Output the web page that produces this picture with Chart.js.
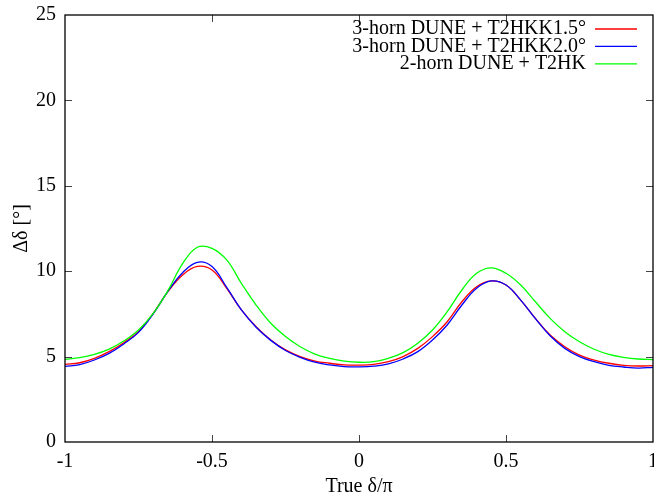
<!DOCTYPE html>
<html>
<head>
<meta charset="utf-8">
<script src="https://cdn.jsdelivr.net/npm/chart.js@4/dist/chart.umd.min.js"></script>
<style>
  html, body { margin: 0; padding: 0; background: #fff; }
  #wrap { width: 654px; height: 500px; }
</style>
</head>
<body>
<div id="wrap"><canvas id="delta-chart" width="654" height="500"></canvas></div>
<script>
// True delta / pi, sampled every 0.05
const deltaValues = [
    -1.00, -0.95, -0.90, -0.85, -0.80, -0.75, -0.70, -0.65, -0.60, -0.55,
    -0.50, -0.45, -0.40, -0.35, -0.30, -0.25, -0.20, -0.15, -0.10, -0.05,
     0.00,  0.05,  0.10,  0.15,  0.20,  0.25,  0.30,  0.35,  0.40,  0.45,
     0.50,  0.55,  0.60,  0.65,  0.70,  0.75,  0.80,  0.85,  0.90,  0.95, 1.00
];

// Delta delta [deg]
const t2hkk15 = [
    4.55, 4.64, 4.90, 5.29, 5.81, 6.46, 7.53, 8.80, 9.78, 10.28,
    10.07, 9.00, 7.73, 6.75, 5.97, 5.39, 5.00, 4.74, 4.61, 4.51,
    4.50, 4.54, 4.70, 5.00, 5.48, 6.17, 7.04, 8.21, 9.09, 9.43,
    9.19, 8.31, 7.24, 6.26, 5.58, 5.09, 4.80, 4.61, 4.49, 4.45, 4.47
];
const t2hkk20 = [
    4.43, 4.53, 4.80, 5.19, 5.74, 6.42, 7.50, 8.82, 9.91, 10.52,
    10.27, 9.05, 7.73, 6.72, 5.95, 5.36, 4.96, 4.67, 4.51, 4.41,
    4.40, 4.44, 4.57, 4.86, 5.29, 5.97, 6.85, 8.02, 9.00, 9.43,
    9.19, 8.31, 7.22, 6.22, 5.48, 5.00, 4.70, 4.49, 4.39, 4.33, 4.37
];
const t2hk = [
    4.84, 4.94, 5.13, 5.44, 5.91, 6.56, 7.53, 8.86, 10.44, 11.40,
    11.34, 10.66, 9.29, 8.02, 6.95, 6.17, 5.58, 5.15, 4.90, 4.74,
    4.67, 4.70, 4.90, 5.23, 5.78, 6.56, 7.63, 8.90, 9.88, 10.20,
    9.88, 9.19, 8.21, 7.24, 6.46, 5.87, 5.43, 5.13, 4.96, 4.86, 4.82
];

const seriesLabels = [
    '3-horn DUNE + T2HKK1.5°',
    '3-horn DUNE + T2HKK2.0°',
    '2-horn DUNE + T2HK'
];
const seriesColors = ['#ff0000', '#0000ff', '#00ff00'];

const xTicks = [-1, -0.5, 0, 0.5, 1];
const yTicks = [0, 5, 10, 15, 20, 25];

const FONT = '"Liberation Serif", "DejaVu Serif", serif';

function toPoints(values) {
    return values.map((v, i) => ({ x: deltaValues[i], y: v }));
}

// gnuplot style frame, inward ticks and a right aligned key
const framePlugin = {
    id: 'frame',
    afterDraw(chart) {
        const { ctx, chartArea: a, scales } = chart;
        ctx.save();

        // inward tick marks on all four sides
        ctx.strokeStyle = '#444';
        ctx.lineWidth = 1;
        ctx.beginPath();
        xTicks.slice(1, -1).forEach(v => {
            const px = Math.round(scales.x.getPixelForValue(v)) + 0.5;
            ctx.moveTo(px, a.bottom); ctx.lineTo(px, a.bottom - 7);
            ctx.moveTo(px, a.top); ctx.lineTo(px, a.top + 7);
        });
        yTicks.slice(1, -1).forEach(v => {
            const py = Math.round(scales.y.getPixelForValue(v)) + 0.5;
            ctx.moveTo(a.left, py); ctx.lineTo(a.left + 7, py);
            ctx.moveTo(a.right, py); ctx.lineTo(a.right - 7, py);
        });
        ctx.stroke();

        // border
        ctx.strokeStyle = '#000';
        ctx.lineWidth = 1.3;
        ctx.strokeRect(a.left, a.top, a.right - a.left, a.bottom - a.top);

        // key
        ctx.font = '20px ' + FONT;
        ctx.fillStyle = '#000';
        ctx.textAlign = 'right';
        ctx.textBaseline = 'middle';
        seriesLabels.forEach((label, i) => {
            const y = a.top + 14 + i * 17.4;
            ctx.fillText(label, a.right - 67, y);
            ctx.strokeStyle = seriesColors[i];
            ctx.lineWidth = 1.3;
            ctx.beginPath();
            ctx.moveTo(a.right - 58, y);
            ctx.lineTo(a.right - 16, y);
            ctx.stroke();
        });
        ctx.restore();
    }
};

const ctx = document.getElementById('delta-chart').getContext('2d');
const chart = new Chart(ctx, {
    type: 'line',
    data: {
        datasets: [t2hkk15, t2hkk20, t2hk].map((values, i) => ({
            label: seriesLabels[i],
            data: toPoints(values),
            borderColor: seriesColors[i],
            borderWidth: 1.3,
            pointRadius: 0,
            fill: false,
            tension: 0.4,
            order: 3 - i
        }))
    },
    options: {
        responsive: false,
        animation: false,
        events: [],
        layout: { padding: { top: 15, right: 1, left: 0, bottom: 0 } },
        plugins: {
            legend: { display: false },
            tooltip: { enabled: false }
        },
        scales: {
            x: {
                type: 'linear',
                min: -1,
                max: 1,
                afterBuildTicks: scale => {
                    scale.ticks = xTicks.map(v => ({ value: v }));
                },
                afterFit: scale => {
                    scale.height = 58;
                    scale.paddingLeft = 0;
                    scale.paddingRight = 0;
                },
                grid: { display: false, drawTicks: false },
                border: { display: false },
                ticks: {
                    padding: 8,
                    maxRotation: 0,
                    autoSkip: false,
                    color: '#000',
                    font: { family: FONT, size: 20 },
                    callback: v => String(v)
                },
                title: {
                    display: true,
                    text: 'True δ/π',
                    color: '#000',
                    font: { family: FONT, size: 20 },
                    padding: { top: 0, bottom: 1 }
                }
            },
            y: {
                min: 0,
                max: 25,
                afterBuildTicks: scale => {
                    scale.ticks = yTicks.map(v => ({ value: v }));
                },
                afterFit: scale => {
                    scale.width = 65;
                    scale.paddingTop = 0;
                    scale.paddingBottom = 0;
                },
                grid: { display: false, drawTicks: false },
                border: { display: false },
                ticks: {
                    padding: 9,
                    color: '#000',
                    font: { family: FONT, size: 20 },
                    callback: v => String(v)
                },
                title: {
                    display: true,
                    text: 'Δδ [°]',
                    color: '#000',
                    font: { family: FONT, size: 20 },
                    padding: { top: 10, bottom: 0 }
                }
            }
        }
    },
    plugins: [framePlugin]
});
</script>
</body>
</html>
